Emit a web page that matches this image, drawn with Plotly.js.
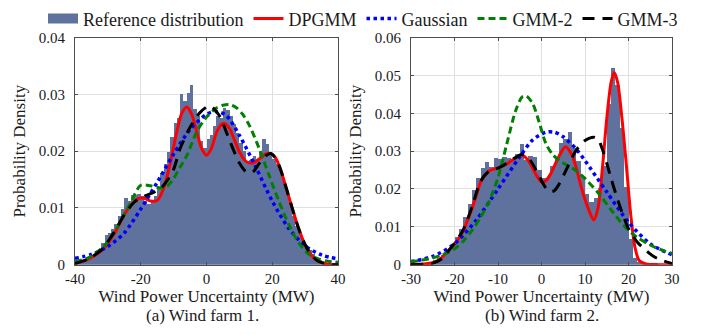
<!DOCTYPE html>
<html>
<head>
<meta charset="utf-8">
<script src="https://cdn.plot.ly/plotly-3.0.1.min.js"></script>
<style>html,body{margin:0;padding:0;background:#fff;}#chart{width:705px;height:335px;}</style>
</head>
<body>
<div id="chart"></div>
<script>
// ---------- Wind farm 1 ----------
const wf1BinStart = -40;
const wf1BinWidth = 1;
const wf1Hist = [0.0003,0.0005,0.0007,0.001,0.0013,0.0017,0.0022,0.0028,0.0038,0.0052,
  0.0055,0.0062,0.0072,0.0085,0.0098,0.0118,0.0112,0.0122,0.0123,0.0125,
  0.0121,0.0112,0.0106,0.0112,0.0121,0.0135,0.0162,0.0178,0.0198,0.0225,
  0.025,0.0258,0.0301,0.0288,0.0302,0.0317,0.0275,0.0262,0.0218,0.0205,
  0.0222,0.0228,0.0245,0.0262,0.0258,0.0276,0.0272,0.0262,0.0248,0.0232,
  0.0215,0.02,0.0182,0.0185,0.0192,0.0186,0.0198,0.0222,0.0212,0.0198,
  0.0186,0.0178,0.017,0.0152,0.013,0.0108,0.0086,0.0068,0.0054,0.0044,
  0.0034,0.0026,0.0018,0.0012,0.0008,0.0005,0.0003,0.0002,0.0001,0.0001];

const wf1DpX = [-40,-37,-34,-31,-28,-25,-23,-21,-19,-17,-15,-13,-11,-9,-7.5,-6,-4.5,-3,-1.5,0,1.5,3,4.5,5.5,7,8.5,10,12,14,16,18,19.5,21,22.5,24,26,28,30,32,34,36,38,40];
const wf1DpY = [0.0002,0.0007,0.0016,0.003,0.0055,0.0088,0.0105,0.0116,0.0117,0.0112,0.0113,0.0135,0.018,0.0235,0.0267,0.0278,0.0265,0.0235,0.0205,0.0193,0.0205,0.0232,0.0247,0.0249,0.024,0.022,0.0199,0.0182,0.0179,0.0186,0.0195,0.0196,0.0188,0.0168,0.014,0.0101,0.0064,0.0035,0.0016,0.0006,0.0002,0.0,0.0];

const wf1GaX = [-40,-35,-30,-25,-20,-15,-10,-5,0,3,6,10,15,20,25,30,35,40];
const wf1GaY = [0.0011,0.0018,0.0032,0.0056,0.0098,0.0145,0.0195,0.0238,0.0265,0.027,0.0263,0.0228,0.0172,0.0112,0.0064,0.0033,0.0017,0.001];

const wf1G2X = [-40,-36,-32,-29,-26,-23,-20,-17,-14,-12,-10,-8,-6,-3,0,3,5,7,9,11,13,16,19,22,25,28,31,34,37,40];
const wf1G2Y = [0.0005,0.0012,0.0028,0.0048,0.0078,0.011,0.014,0.0139,0.0135,0.0138,0.0152,0.0172,0.0192,0.0234,0.026,0.0276,0.0281,0.0282,0.0277,0.0265,0.0246,0.0205,0.0158,0.0112,0.0071,0.0039,0.0019,0.001,0.0006,0.0004];

const wf1G3X = [-40,-36,-32,-28,-25,-22,-20,-17,-14,-12,-10,-8,-5,-2,1,4,6,8,10,12,14,16,18,19.5,21,22.5,24,26,28,30,32,34,36,38,40];
const wf1G3Y = [0.0002,0.001,0.0026,0.0058,0.0088,0.011,0.0118,0.0125,0.0134,0.0148,0.0168,0.0205,0.0242,0.0268,0.028,0.0262,0.0234,0.0205,0.0179,0.0164,0.0163,0.0178,0.0192,0.0196,0.0188,0.0168,0.014,0.0101,0.0064,0.0035,0.0016,0.0006,0.0002,0.0,0.0];

// ---------- Wind farm 2 ----------
const wf2BinStart = -30;
const wf2BinWidth = 1;
const wf2Hist = [0.0002,0.0003,0.0004,0.0005,0.0008,0.0012,0.0018,0.0026,0.0037,0.0052,
  0.0072,0.0095,0.0125,0.016,0.0198,0.0228,0.0255,0.0272,0.0258,0.0282,
  0.0278,0.0285,0.0282,0.0278,0.0292,0.0318,0.0276,0.0288,0.0285,0.025,
  0.0228,0.0228,0.026,0.0282,0.0322,0.0332,0.035,0.0308,0.0275,0.0232,
  0.0188,0.0165,0.0175,0.0202,0.026,0.0425,0.052,0.0475,0.0362,0.0205,
  0.0068,0.0018,0.0006,0.0003,0.0002,0.0001,0.0001,0.0,0.0,0.0];

const wf2DpX = [-30,-27,-25,-24,-23,-22,-21,-20,-19,-18,-17,-16,-15,-14,-13,-12,-10,-8,-6,-4.5,-3,-1.5,0,1,2,3,4,5.5,7,8,9,10,11,12,13,14,15,16,16.7,17.5,18.5,19.5,20.5,21.5,22.5,24,27,30];
const wf2DpY = [0.0001,0.0002,0.0005,0.001,0.0018,0.003,0.0042,0.0055,0.007,0.0089,0.0118,0.0148,0.0182,0.0218,0.0236,0.0248,0.0256,0.0266,0.0282,0.029,0.0275,0.0243,0.0218,0.0222,0.0238,0.0262,0.0286,0.0312,0.029,0.0255,0.0211,0.0172,0.0141,0.0118,0.015,0.0255,0.0386,0.0482,0.0508,0.0482,0.0386,0.0264,0.0133,0.0045,0.001,0.0002,0.0,0.0];

const wf2GaX = [-30,-25,-20,-15,-10,-5,-2,1,3,5,8,10,15,20,25,30];
const wf2GaY = [0.0008,0.0022,0.0055,0.0118,0.02,0.0285,0.033,0.035,0.035,0.0338,0.0305,0.0275,0.0192,0.0112,0.0055,0.0026];

const wf2G2X = [-30,-26,-23,-20,-18,-16,-14,-12,-10,-8,-6,-4.5,-3.5,-2,-0.5,1,2.5,4,6,8,10,13,16,19,22,25,28,30];
const wf2G2Y = [0.0008,0.0015,0.0025,0.0042,0.0062,0.009,0.0125,0.0168,0.023,0.0318,0.0405,0.0443,0.0446,0.0425,0.0375,0.032,0.0292,0.0276,0.0262,0.0248,0.0228,0.019,0.0145,0.0102,0.0072,0.0052,0.0037,0.003];

const wf2G3X = [-30,-27,-25,-23,-22,-21,-20,-18,-16,-14,-12,-10,-8,-6,-4.5,-3,-1.5,0,1,2,3,4,6,8,10,12,13,14,15,16,17,18,19,20,22,24,26,28,30];
const wf2G3Y = [0.0,0.0001,0.0004,0.0015,0.0028,0.0042,0.0056,0.0092,0.0152,0.022,0.0248,0.0255,0.0268,0.0283,0.0291,0.0282,0.0255,0.0222,0.0203,0.0193,0.0196,0.0212,0.0258,0.0303,0.0328,0.0337,0.0332,0.0305,0.0268,0.0228,0.019,0.0155,0.0123,0.0095,0.006,0.0038,0.002,0.001,0.0003];

const seriesNames = ['Reference distribution','DPGMM','Gaussian','GMM-2','GMM-3'];
const tickLabels1 = ['-40','-20','0','20','40'];
const tickLabels2 = ['-30','-20','-10','0','10','20','30'];

// ---------- build ----------
function centers(start, w, n){ const c=[]; for(let i=0;i<n;i++) c.push(start + w*(i+0.5)); return c; }
const BAR = '#5f729d';
const FONT = "'Liberation Serif', 'Times New Roman', Times, serif";
const TXT = '#1a1a1a';
const styles = {
  DPGMM:   {color:'#ff0000', width:3, dash:'solid'},
  Gaussian:{color:'#0000ff', width:3.5, dash:'dot'},
  'GMM-2': {color:'#008000', width:3, dash:'7px,4px'},
  'GMM-3': {color:'#000000', width:3, dash:'12px,8px'}
};
function curve(x, y, name, xa, ya, show){
  return {type:'scatter', mode:'lines', x:x, y:y, name:name, xaxis:xa, yaxis:ya,
    showlegend:show, line:Object.assign({shape:'spline', smoothing:0.8}, styles[name]), hoverinfo:'skip'};
}
const data = [];
data.push({type:'bar', x:centers(wf1BinStart, wf1BinWidth, wf1Hist.length), y:wf1Hist, width:wf1BinWidth,
  marker:{color:BAR, line:{width:0}}, name:seriesNames[0], showlegend:false, xaxis:'x', yaxis:'y'});
data.push({type:'bar', x:centers(wf2BinStart, wf2BinWidth, wf2Hist.length), y:wf2Hist, width:wf2BinWidth,
  marker:{color:BAR, line:{width:0}}, name:seriesNames[0], showlegend:false, xaxis:'x2', yaxis:'y2'});
// legend entry for histogram
data.push({type:'scatter', mode:'lines', x:[null], y:[null], name:seriesNames[0], line:{color:BAR, width:12}, xaxis:'x', yaxis:'y'});
data.push(curve(wf1DpX, wf1DpY, 'DPGMM', 'x','y', true));
data.push(curve(wf1GaX, wf1GaY, 'Gaussian', 'x','y', true));
data.push(curve(wf1G2X, wf1G2Y, 'GMM-2', 'x','y', true));
data.push(curve(wf1G3X, wf1G3Y, 'GMM-3', 'x','y', true));
data.push(curve(wf2DpX, wf2DpY, 'DPGMM', 'x2','y2', false));
data.push(curve(wf2GaX, wf2GaY, 'Gaussian', 'x2','y2', false));
data.push(curve(wf2G2X, wf2G2Y, 'GMM-2', 'x2','y2', false));
data.push(curve(wf2G3X, wf2G3Y, 'GMM-3', 'x2','y2', false));

const W=705, H=335;
const axCommon = {showline:true, linecolor:'#4d4d4d', linewidth:1, mirror:'ticks', ticks:'inside', ticklen:3,
  tickcolor:'#4d4d4d', showgrid:true, gridcolor:'#e0e0e0', gridwidth:1, zeroline:false,
  tickfont:{family:FONT, size:15, color:TXT}, automargin:false, fixedrange:true};
function xax(domain, range, labels){
  return Object.assign({}, axCommon, {domain:domain, range:range, tickmode:'array',
    tickvals:labels.map(Number), ticktext:labels, ticklabelstandoff:0,
    title:{text:'Wind Power Uncertainty (MW)', font:{family:FONT, size:17, color:TXT}, standoff:0}});
}
function yax(domain, range, anchor){
  return Object.assign({}, axCommon, {domain:domain, range:range, dtick:0.01, tick0:0, anchor:anchor,
    ticklabelstandoff:6,
    title:{text:'Probability Density', font:{family:FONT, size:17, color:TXT}, standoff:8}});
}
const yDom = [1-264/H, 1-35/H];
const layout = {
  width:W, height:H, margin:{l:0,r:0,t:0,b:0}, paper_bgcolor:'#fff', plot_bgcolor:'#fff',
  bargap:0, barmode:'overlay', font:{family:FONT, color:TXT},
  xaxis: Object.assign(xax([75/W, 338/W], [-40,40], tickLabels1), {anchor:'y'}),
  yaxis: yax(yDom, [0,0.04], 'x'),
  xaxis2: Object.assign(xax([411/W, 672/W], [-30,30], tickLabels2), {anchor:'y2'}),
  yaxis2: yax(yDom, [0,0.06], 'x2'),
  legend:{orientation:'h', x:43/W, xanchor:'left', y:1-16/H, yanchor:'middle',
    font:{family:FONT, size:18, color:TXT}, bgcolor:'rgba(0,0,0,0)', itemwidth:30, tracegroupgap:0},
  annotations:[
    {text:'(a) Wind farm 1.', xref:'paper', yref:'paper', x:202/W, y:1-315/H, showarrow:false,
     xanchor:'center', yanchor:'middle', font:{family:FONT, size:17, color:TXT}},
    {text:'(b) Wind farm 2.', xref:'paper', yref:'paper', x:542/W, y:1-315/H, showarrow:false,
     xanchor:'center', yanchor:'middle', font:{family:FONT, size:17, color:TXT}}
  ]
};
Plotly.newPlot('chart', data, layout, {displayModeBar:false, staticPlot:true});
</script>
</body>
</html>
